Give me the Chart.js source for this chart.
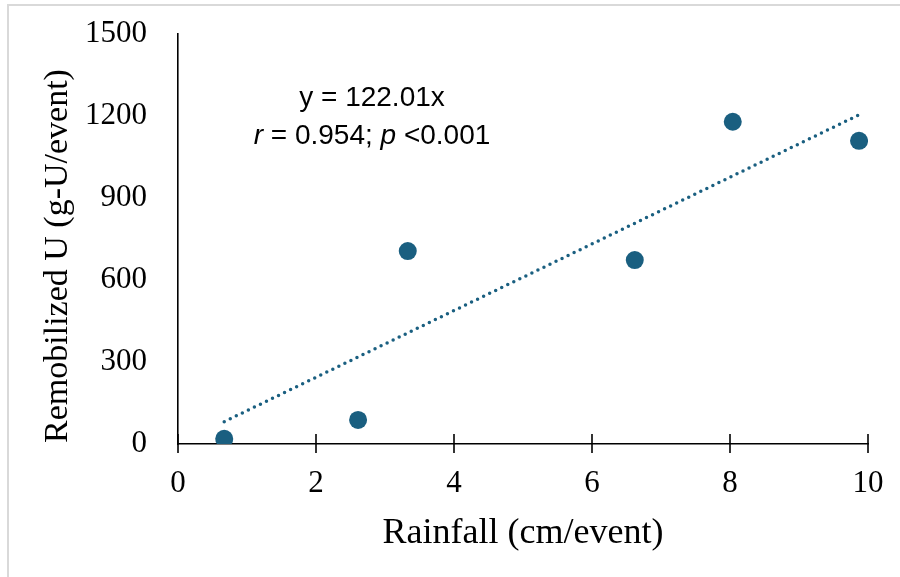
<!DOCTYPE html>
<html>
<head>
<meta charset="utf-8">
<script src="https://cdn.jsdelivr.net/npm/chart.js@4.4.1/dist/chart.umd.min.js"></script>
<style>
  html, body { margin: 0; padding: 0; background: #fff; }
  #wrap { position: relative; width: 900px; height: 577px; }
  #frame { position: absolute; left: 7px; top: 4px; right: 0; bottom: 0;
           border-top: 2px solid #d9d9d9; border-left: 2px solid #d9d9d9; }
  #chart { position: absolute; left: 0; top: 0; }
</style>
</head>
<body>
<div id="wrap">
  <div id="frame"></div>
  <canvas id="chart" width="900" height="577"></canvas>
</div>
<script>
// rainfall per event (cm) against remobilized uranium (g-U per event)
const rainfall = [0.67, 2.61, 3.33, 6.62, 8.04, 9.87];
const remobilizedU = [19, 88, 706, 673, 1179, 1109];

// regression through the origin
const slope = 122.01;
const fitLabel = "y = 122.01x";
const statsLabel = [["r", true], [" = 0.954; ", false], ["p", true], [" <0.001", false]];

const xTicks = [0, 2, 4, 6, 8, 10];
const yTicks = [0, 300, 600, 900, 1200, 1500];

const markerColor = "#1a5f80";
const serif = '"Liberation Serif", "Times New Roman", serif';
const sans = '"Liberation Sans", Arial, sans-serif';

const points = rainfall.map((x, i) => ({ x, y: remobilizedU[i] }));
const xMin = Math.min(...rainfall);
const xMax = Math.max(...rainfall);
const trend = [{ x: xMin, y: slope * xMin }, { x: xMax, y: slope * xMax }];

// tick marks on the x axis cross the axis line
const crossTicks = {
  id: "crossTicks",
  beforeDatasetsDraw(chart) {
    const { ctx, chartArea, scales: { x } } = chart;
    ctx.save();
    ctx.strokeStyle = "#000";
    ctx.lineWidth = 1.6;
    xTicks.forEach(v => {
      const px = x.getPixelForValue(v);
      ctx.beginPath();
      ctx.moveTo(px, chartArea.bottom - 10);
      ctx.lineTo(px, chartArea.bottom + 9);
      ctx.stroke();
    });
    ctx.restore();
  }
};

// equation and statistics text
const fitText = {
  id: "fitText",
  afterDatasetsDraw(chart) {
    const { ctx, chartArea } = chart;
    const cx = chartArea.left + 194;
    const size = 28;
    ctx.save();
    ctx.fillStyle = "#000";
    ctx.textBaseline = "alphabetic";
    ctx.font = size + "px " + sans;
    ctx.textAlign = "center";
    ctx.fillText(fitLabel, cx, chartArea.top + 72);

    const parts = statsLabel.map(([t, italic]) => ({ t, font: (italic ? "italic " : "") + size + "px " + sans }));
    let total = 0;
    parts.forEach(p => { ctx.font = p.font; p.w = ctx.measureText(p.t).width; total += p.w; });
    let x = cx - total / 2;
    ctx.textAlign = "left";
    parts.forEach(p => { ctx.font = p.font; ctx.fillText(p.t, x, chartArea.top + 110); x += p.w; });
    ctx.restore();
  }
};

new Chart(document.getElementById("chart"), {
  type: "scatter",
  data: {
    datasets: [
      {
        label: "Remobilized U",
        data: points,
        backgroundColor: markerColor,
        borderColor: markerColor,
        pointRadius: 9,
        pointHoverRadius: 9,
        borderWidth: 0
      },
      {
        label: "Linear fit",
        data: trend,
        showLine: true,
        pointRadius: 0,
        borderColor: markerColor,
        borderWidth: 3.5,
        borderDash: [0, 6.7],
        borderCapStyle: "round"
      }
    ]
  },
  options: {
    responsive: false,
    animation: false,
    events: [],
    layout: { autoPadding: false, padding: { top: 34, right: 32, bottom: 0, left: 0 } },
    plugins: { legend: { display: false }, tooltip: { enabled: false } },
    scales: {
      x: {
        type: "linear",
        min: 0,
        max: 10,
        afterBuildTicks: s => { s.ticks = xTicks.map(v => ({ value: v })); },
        // fixed axis height; edge labels fit inside the layout padding
        afterFit: s => { s.height = 133; s.paddingLeft = 0; s.paddingRight = 0; },
        grid: { display: false, drawTicks: false },
        border: { display: true, color: "#000", width: 1.6 },
        ticks: { padding: 21, color: "#000", font: { family: serif, size: 31 }, callback: v => String(v) },
        title: {
          display: true,
          text: "Rainfall (cm/event)",
          color: "#000",
          font: { family: serif, size: 36 },
          padding: { top: 0, bottom: 22 }
        }
      },
      y: {
        type: "linear",
        min: 0,
        max: 1500,
        afterBuildTicks: s => { s.ticks = yTicks.map(v => ({ value: v })); },
        afterFit: s => { s.width = 178; s.paddingTop = 0; s.paddingBottom = 0; },
        grid: { display: false, drawTicks: false },
        border: { display: true, color: "#000", width: 1.6 },
        ticks: { padding: 31, color: "#000", font: { family: serif, size: 31 }, callback: v => String(v) },
        title: {
          display: true,
          text: "Remobilized U (g-U/event)    ",
          color: "#000",
          font: { family: serif, size: 34 },
          padding: { top: 38, bottom: 0 }
        }
      }
    }
  },
  plugins: [crossTicks, fitText]
});
</script>
</body>
</html>
